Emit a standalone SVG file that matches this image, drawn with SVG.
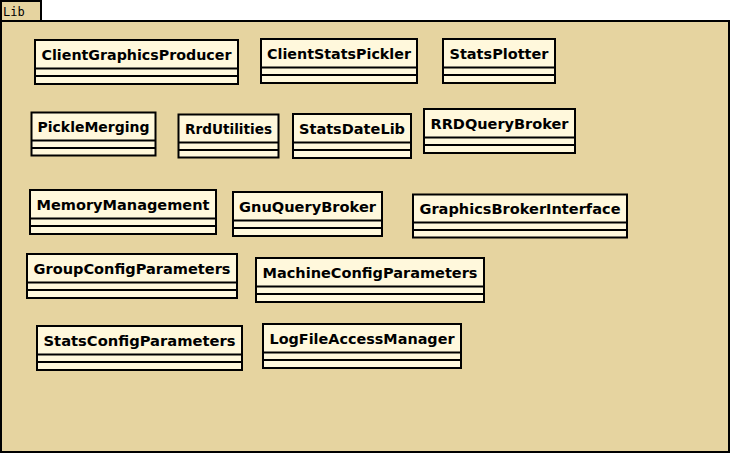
<svg xmlns="http://www.w3.org/2000/svg" width="730" height="453" viewBox="0 0 730 453">
<style>
.pkg{fill:#e6d4a0;stroke:#000;stroke-width:2}
.cls{fill:#fff8dc;stroke:#000;stroke-width:2}
.ln{stroke:#000;stroke-width:2}
.t{font-family:"DejaVu Sans",sans-serif;font-size:14px;font-weight:bold;fill:#000;text-anchor:middle}
.pt{font-family:"DejaVu Sans Mono",monospace;font-size:12px;fill:#000}
</style>
<g id="package-Lib">
<rect class="pkg" x="1" y="1" width="40" height="20"/>
<rect class="pkg" x="1" y="21" width="728" height="431"/>
<text class="pt" x="3" y="15.5">Lib</text>
</g>
<g id="ClientGraphicsProducer">
<rect class="cls" x="35" y="40" width="203" height="44"/>
<line class="ln" x1="35" y1="68.5" x2="238" y2="68.5"/><line class="ln" x1="35" y1="76" x2="238" y2="76"/>
<text class="t" x="136.5" y="59.5" textLength="190" lengthAdjust="spacingAndGlyphs">ClientGraphicsProducer</text>
</g>
<g id="ClientStatsPickler">
<rect class="cls" x="261" y="39" width="156" height="44"/>
<line class="ln" x1="261" y1="67.5" x2="417" y2="67.5"/><line class="ln" x1="261" y1="75" x2="417" y2="75"/>
<text class="t" x="339" y="58.5" textLength="144" lengthAdjust="spacingAndGlyphs">ClientStatsPickler</text>
</g>
<g id="StatsPlotter">
<rect class="cls" x="443" y="39" width="112" height="44"/>
<line class="ln" x1="443" y1="67.5" x2="555" y2="67.5"/><line class="ln" x1="443" y1="75" x2="555" y2="75"/>
<text class="t" x="499" y="58.5" textLength="99" lengthAdjust="spacingAndGlyphs">StatsPlotter</text>
</g>
<g id="PickleMerging">
<rect class="cls" x="31.5" y="112.5" width="124" height="43"/>
<line class="ln" x1="31.5" y1="140.5" x2="155.5" y2="140.5"/><line class="ln" x1="31.5" y1="148" x2="155.5" y2="148"/>
<text class="t" x="93.5" y="131.5" textLength="112" lengthAdjust="spacingAndGlyphs">PickleMerging</text>
</g>
<g id="RrdUtilities">
<rect class="cls" x="178.5" y="114.5" width="100" height="43"/>
<line class="ln" x1="178.5" y1="142.5" x2="278.5" y2="142.5"/><line class="ln" x1="178.5" y1="150" x2="278.5" y2="150"/>
<text class="t" x="228.5" y="133.5" textLength="87" lengthAdjust="spacingAndGlyphs">RrdUtilities</text>
</g>
<g id="StatsDateLib">
<rect class="cls" x="293" y="114" width="118" height="44"/>
<line class="ln" x1="293" y1="142.5" x2="411" y2="142.5"/><line class="ln" x1="293" y1="150" x2="411" y2="150"/>
<text class="t" x="352" y="133.5" textLength="106" lengthAdjust="spacingAndGlyphs">StatsDateLib</text>
</g>
<g id="RRDQueryBroker">
<rect class="cls" x="424" y="109" width="151" height="44"/>
<line class="ln" x1="424" y1="137.5" x2="575" y2="137.5"/><line class="ln" x1="424" y1="145" x2="575" y2="145"/>
<text class="t" x="499.5" y="128.5" textLength="138" lengthAdjust="spacingAndGlyphs">RRDQueryBroker</text>
</g>
<g id="MemoryManagement">
<rect class="cls" x="30" y="190" width="186" height="44"/>
<line class="ln" x1="30" y1="218.5" x2="216" y2="218.5"/><line class="ln" x1="30" y1="226" x2="216" y2="226"/>
<text class="t" x="123" y="209.5" textLength="173" lengthAdjust="spacingAndGlyphs">MemoryManagement</text>
</g>
<g id="GnuQueryBroker">
<rect class="cls" x="233" y="192" width="149" height="44"/>
<line class="ln" x1="233" y1="220.5" x2="382" y2="220.5"/><line class="ln" x1="233" y1="228" x2="382" y2="228"/>
<text class="t" x="307.5" y="211.5" textLength="137" lengthAdjust="spacingAndGlyphs">GnuQueryBroker</text>
</g>
<g id="GraphicsBrokerInterface">
<rect class="cls" x="413" y="194.5" width="214" height="43"/>
<line class="ln" x1="413" y1="222.5" x2="627" y2="222.5"/><line class="ln" x1="413" y1="230" x2="627" y2="230"/>
<text class="t" x="520" y="213.5" textLength="201" lengthAdjust="spacingAndGlyphs">GraphicsBrokerInterface</text>
</g>
<g id="GroupConfigParameters">
<rect class="cls" x="27" y="254" width="210" height="44"/>
<line class="ln" x1="27" y1="282.5" x2="237" y2="282.5"/><line class="ln" x1="27" y1="290" x2="237" y2="290"/>
<text class="t" x="132" y="273.5" textLength="197" lengthAdjust="spacingAndGlyphs">GroupConfigParameters</text>
</g>
<g id="MachineConfigParameters">
<rect class="cls" x="256" y="258" width="228" height="44"/>
<line class="ln" x1="256" y1="286.5" x2="484" y2="286.5"/><line class="ln" x1="256" y1="294" x2="484" y2="294"/>
<text class="t" x="370" y="277.5" textLength="215" lengthAdjust="spacingAndGlyphs">MachineConfigParameters</text>
</g>
<g id="StatsConfigParameters">
<rect class="cls" x="37" y="326" width="205" height="44"/>
<line class="ln" x1="37" y1="354.5" x2="242" y2="354.5"/><line class="ln" x1="37" y1="362" x2="242" y2="362"/>
<text class="t" x="139.5" y="345.5" textLength="192" lengthAdjust="spacingAndGlyphs">StatsConfigParameters</text>
</g>
<g id="LogFileAccessManager">
<rect class="cls" x="263" y="324" width="198" height="44"/>
<line class="ln" x1="263" y1="352.5" x2="461" y2="352.5"/><line class="ln" x1="263" y1="360" x2="461" y2="360"/>
<text class="t" x="362" y="343.5" textLength="185" lengthAdjust="spacingAndGlyphs">LogFileAccessManager</text>
</g>
</svg>
